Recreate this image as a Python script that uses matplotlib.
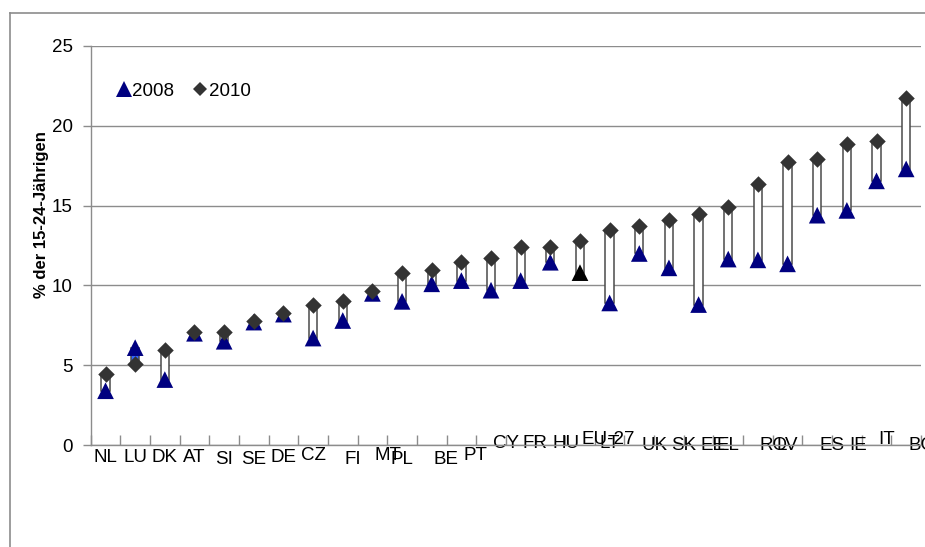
import matplotlib
matplotlib.use("Agg")
import matplotlib.pyplot as plt
from matplotlib.lines import Line2D
import numpy as np

plt.rcParams['font.family'] = ['Liberation Sans', 'DejaVu Sans']

# Youth share (% of 15-24 year olds) per country, 2008 and 2010
countries = ["NL", "LU", "DK", "AT", "SI", "SE", "DE", "CZ", "FI", "MT", "PL", "BE",
             "PT", "CY", "FR", "HU", "EU-27", "LT", "UK", "SK", "EE", "EL", "RO", "LV",
             "ES", "IE", "IT", "BG"]
v2008 = [3.4, 6.1, 4.1, 7.0, 6.5, 7.7, 8.2, 6.7, 7.8, 9.5, 9.0, 10.1,
         10.3, 9.7, 10.3, 11.45, 10.8, 8.9, 12.0, 11.1, 8.8, 11.65, 11.6, 11.35,
         14.4, 14.7, 16.55, 17.3]
v2010 = [4.45, 5.1, 5.95, 7.1, 7.1, 7.8, 8.3, 8.8, 9.0, 9.65, 10.8, 10.95,
         11.45, 11.7, 12.4, 12.4, 12.8, 13.5, 13.7, 14.1, 14.5, 14.9, 16.35, 17.75,
         17.9, 18.85, 19.05, 21.75]
y_ticks = [0, 5, 10, 15, 20, 25]

# Category label layout: alignment and vertical offset (pixels below the axis)
label_align = ["c", "c", "c", "c", "c", "c", "c", "c", "l", "l", "c", "l",
               "l", "l", "l", "l", "l", "c", "l", "l", "l", "c", "l", "c",
               "l", "l", "l", "l"]
label_drop = [12, 12, 12, 12, 15, 15, 12, 10, 15, 11, 14, 15,
              11, -1, -1, -1, -5, -2, 0, 0, 0, 0, 0, 0,
              0, 0, -5, 0]

W, H = 925, 547
FS = 13.5
fig = plt.figure(figsize=(W / 100, H / 100), dpi=100)
ax = fig.add_axes([90.7 / W, 1 - 445 / H, (921 - 90.7) / W, (445 - 46) / H])

x = np.arange(len(countries))
lo = np.minimum(v2008, v2010)
hi = np.maximum(v2008, v2010)
bar_colors = ["white" if b >= a else "#3366ff" for a, b in zip(v2008, v2010)]
ax.bar(x, hi - lo, bottom=lo, width=0.28, color=bar_colors,
       edgecolor="#4a4a4a", linewidth=1.1, zorder=2)

tri_colors = ["black" if c == "EU-27" else "#000080" for c in countries]
ax.scatter(x, v2008, marker="^", s=12 ** 2, c=tri_colors, linewidths=0, zorder=3)
ax.scatter(x, v2010, marker="D", s=8.4 ** 2, c="#333333", linewidths=0, zorder=4)

ax.set_xlim(-0.5, len(countries) - 0.5)
ax.set_ylim(0, 25)
ax.set_yticks(y_ticks)
ax.yaxis.grid(True, color="#8c8c8c", linewidth=1.0)
ax.set_axisbelow(True)
ax.tick_params(axis="y", direction="out", length=6, width=1, color="#8c8c8c",
               labelsize=FS, pad=7)
ax.set_xticks(np.arange(len(countries) + 1) - 0.5)
ax.set_xticklabels([])
ax.tick_params(axis="x", direction="in", length=7, width=1, color="#8c8c8c")
for side in ("top", "right"):
    ax.spines[side].set_visible(False)
for side in ("left", "bottom"):
    ax.spines[side].set_color("#8c8c8c")
    ax.spines[side].set_linewidth(1.0)

for i, (name, al, dy) in enumerate(zip(countries, label_align, label_drop)):
    if al == "c":
        ha, dx = "center", 0
    else:
        ha, dx = "left", 2
    ax.annotate(name, xy=(i, 0), xycoords=("data", "axes fraction"),
                xytext=(dx, -dy), textcoords="offset pixels",
                ha=ha, va="center", fontsize=FS, annotation_clip=False, zorder=1)

fig.text(42 / W, 1 - 215 / H, "% der 15-24-Jährigen", rotation=90,
         ha="center", va="center", fontsize=12, fontweight="bold")

handles = [Line2D([], [], linestyle="none", marker="^", markersize=11,
                  markerfacecolor="#000080", markeredgewidth=0),
           Line2D([], [], linestyle="none", marker="D", markersize=7,
                  markerfacecolor="#333333", markeredgewidth=0)]
ax.legend(handles, ["2008", "2010"], ncol=2, frameon=False, fontsize=FS,
          loc="center left", bbox_to_anchor=(118 / W, 1 - 91 / H),
          bbox_transform=fig.transFigure, handlelength=0.6, handletextpad=0.15,
          columnspacing=1.1, borderaxespad=0, borderpad=0)

# Chart frame (left and top edges)
fig.add_artist(Line2D([10 / W, 10 / W], [0, 1 - 13 / H], transform=fig.transFigure,
                      color="#8c8c8c", linewidth=1.2))
fig.add_artist(Line2D([10 / W, 1], [1 - 13 / H, 1 - 13 / H], transform=fig.transFigure,
                      color="#8c8c8c", linewidth=1.2))

fig.savefig("out.png", dpi=100)
